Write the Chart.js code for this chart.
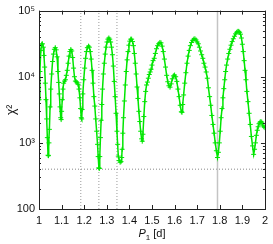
<!DOCTYPE html>
<html>
<head>
<meta charset="utf-8">
<script src="https://cdn.jsdelivr.net/npm/chart.js@4.4.0/dist/chart.umd.min.js"></script>
<style>
  html, body { margin: 0; padding: 0; background: #fff; }
  #chart { display: block; }
</style>
</head>
<body>
<canvas id="chart" width="273" height="244"></canvas>
<script>
// Trial period P1 [d] and chi^2 of the fit
const periods = [
  1.000, 1.004, 1.008, 1.012, 1.015, 1.019, 1.022, 1.025, 1.028, 1.031,
  1.034, 1.037, 1.040, 1.042, 1.044, 1.046, 1.049, 1.052, 1.056, 1.060,
  1.064, 1.068, 1.072, 1.076, 1.080, 1.084, 1.087, 1.090, 1.093, 1.096,
  1.098, 1.100, 1.103, 1.106, 1.109, 1.113, 1.117, 1.121, 1.125, 1.129,
  1.133, 1.137, 1.141, 1.145, 1.149, 1.153, 1.157, 1.161, 1.165, 1.169,
  1.173, 1.177, 1.181, 1.184, 1.187, 1.189, 1.191, 1.194, 1.198, 1.202,
  1.206, 1.210, 1.214, 1.219, 1.223, 1.227, 1.231, 1.235, 1.239, 1.243,
  1.247, 1.251, 1.255, 1.259, 1.262, 1.265, 1.267, 1.269, 1.272, 1.275,
  1.278, 1.281, 1.285, 1.289, 1.293, 1.297, 1.301, 1.305, 1.309, 1.313,
  1.317, 1.321, 1.325, 1.329, 1.333, 1.337, 1.341, 1.345, 1.348, 1.351,
  1.355, 1.359, 1.363, 1.366, 1.368, 1.371, 1.374, 1.378, 1.382, 1.386,
  1.390, 1.394, 1.398, 1.402, 1.406, 1.410, 1.414, 1.418, 1.422, 1.426,
  1.430, 1.434, 1.438, 1.442, 1.446, 1.450, 1.454, 1.457, 1.460, 1.464,
  1.468, 1.472, 1.476, 1.480, 1.484, 1.488, 1.492, 1.496, 1.500, 1.505,
  1.510, 1.515, 1.520, 1.525, 1.530, 1.535, 1.540, 1.545, 1.550, 1.555,
  1.560, 1.565, 1.570, 1.575, 1.580, 1.585, 1.590, 1.595, 1.600, 1.605,
  1.610, 1.615, 1.620, 1.625, 1.630, 1.633, 1.636, 1.640, 1.645, 1.650,
  1.655, 1.660, 1.665, 1.670, 1.675, 1.680, 1.685, 1.690, 1.695, 1.700,
  1.705, 1.710, 1.715, 1.720, 1.725, 1.730, 1.735, 1.740, 1.745, 1.750,
  1.755, 1.760, 1.765, 1.770, 1.775, 1.780, 1.785, 1.790, 1.794, 1.798,
  1.802, 1.806, 1.810, 1.814, 1.818, 1.822, 1.826, 1.830, 1.835, 1.840,
  1.845, 1.850, 1.855, 1.860, 1.865, 1.870, 1.875, 1.880, 1.884, 1.888,
  1.892, 1.896, 1.900, 1.904, 1.908, 1.912, 1.916, 1.920, 1.925, 1.930,
  1.935, 1.940, 1.945, 1.950, 1.954, 1.958, 1.962, 1.966, 1.970, 1.974,
  1.978, 1.982, 1.986, 1.990, 1.995, 2.000
];
const chi2 = [
  4500, 12000, 25000, 31000, 31500, 28000, 21000, 14000, 8000, 4500,
  2300, 1200, 650, 640, 1000, 1600, 3500, 6500, 11000, 17000,
  22000, 26000, 27500, 25500, 20000, 12000, 8200, 5500, 3500, 2400,
  2250, 3000, 4500, 6500, 8000, 8600, 9000, 10500, 12500, 16000,
  20500, 24000, 25800, 24500, 19500, 13500, 10000, 8600, 8400, 8100,
  7700, 6500, 4800, 3300, 2400, 2300, 3200, 5500, 9000, 13500,
  19000, 24000, 27500, 29000, 28000, 24000, 18500, 12500, 8000, 5000,
  3600, 2300, 1500, 950, 620, 420, 410, 620, 1200, 2200,
  3800, 6500, 11000, 16000, 22000, 28000, 33500, 37000, 38500, 37000,
  33500, 28000, 21500, 14500, 8500, 5000, 2800, 1500, 950, 630,
  540, 510, 520, 600, 800, 1400, 2400, 4300, 7500, 12000,
  18000, 24000, 30000, 34500, 37000, 37000, 34000, 29500, 22500, 16000,
  11000, 7000, 4700, 3000, 2100, 1500, 1150, 1060, 1350, 2500,
  4200, 6000, 7500, 8300, 9500, 10800, 11800, 13000, 15000, 17500,
  19000, 22500, 26500, 29500, 31500, 33000, 32500, 29000, 24000, 18500,
  14000, 10500, 8400, 7300, 6950, 7800, 9300, 10300, 10600, 10000,
  8500, 6500, 5000, 3700, 2950, 2900, 3800, 5300, 8000, 11500,
  16000, 20500, 25000, 29500, 33000, 35500, 37000, 37500, 36000, 33500,
  31500, 28000, 24500, 21500, 19000, 16000, 14000, 11800, 9500, 6800,
  5000, 3700, 2600, 1900, 1400, 1000, 760, 600, 720, 1000,
  1500, 2400, 3300, 4800, 6600, 9000, 12000, 15000, 18500, 22500,
  26000, 30000, 34000, 37500, 41000, 44500, 47000, 48500, 48500, 47000,
  44000, 38500, 31000, 24000, 17500, 12500, 9000, 6000, 4200, 2800,
  1900, 1250, 900, 670, 800, 1000, 1300, 1550, 1750, 1950,
  2050, 2100, 2050, 1850, 1750, 1700
];

// axis ticks
const xTicks = [1, 1.1, 1.2, 1.3, 1.4, 1.5, 1.6, 1.7, 1.8, 1.9, 2];
const xTickLabels = ['1', '1.1', '1.2', '1.3', '1.4', '1.5', '1.6', '1.7', '1.8', '1.9', '2'];
const yTicks = [100, 1000, 10000, 100000];
const yTickLabels = ['100', '10\u00b3', '10\u2074', '10\u2075'];

// reference marks
const markPeriods = [1.185, 1.265, 1.345];
const bestPeriod = 1.79;
const chi2Level = 400;

const GREEN = 'rgb(0, 230, 0)';
const FONT = '"Liberation Sans", Arial, sans-serif';

function vline(p, color, width, dash) {
  return {
    data: [{ x: p, y: 100 }, { x: p, y: 100000 }],
    borderColor: color,
    borderWidth: width,
    borderDash: dash,
    pointRadius: 0,
    order: 2,
  };
}

// gnuplot-like frame: box all round, inward ticks on all four sides, x title
const framePlugin = {
  id: 'frame',
  afterDraw(chart) {
    const { ctx, chartArea: a, scales } = chart;
    const x = scales.x;
    const y = scales.y;
    ctx.save();
    ctx.strokeStyle = '#222';
    ctx.lineWidth = 1;
    ctx.beginPath();
    xTicks.forEach((v) => {
      const px = Math.round(x.getPixelForValue(v)) + 0.5;
      ctx.moveTo(px, a.bottom);
      ctx.lineTo(px, a.bottom - 4);
      ctx.moveTo(px, a.top);
      ctx.lineTo(px, a.top + 4);
    });
    for (let d = 100; d < 100000; d *= 10) {
      for (let m = 1; m < 10; m++) {
        const len = m === 1 ? 4 : 2;
        const py = Math.round(y.getPixelForValue(d * m)) + 0.5;
        ctx.moveTo(a.left, py);
        ctx.lineTo(a.left + len, py);
        ctx.moveTo(a.right, py);
        ctx.lineTo(a.right - len, py);
      }
    }
    ctx.stroke();
    ctx.strokeRect(Math.round(a.left) + 0.5, Math.round(a.top) + 0.5,
      Math.round(a.right - a.left), Math.round(a.bottom - a.top));

    // x axis title: italic P, subscript 1, then [d]
    const base = 237;
    ctx.fillStyle = '#111';
    ctx.textBaseline = 'alphabetic';
    ctx.font = 'italic 11px ' + FONT;
    const wP = ctx.measureText('P').width;
    ctx.font = '8px ' + FONT;
    const w1 = ctx.measureText('1').width;
    ctx.font = '11px ' + FONT;
    const wD = ctx.measureText(' [d]').width;
    let tx = (a.left + a.right) / 2 - (wP + w1 + wD) / 2;
    ctx.font = 'italic 11px ' + FONT;
    ctx.fillText('P', tx, base);
    tx += wP;
    ctx.font = '8px ' + FONT;
    ctx.fillText('1', tx, base + 3);
    tx += w1;
    ctx.font = '11px ' + FONT;
    ctx.fillText(' [d]', tx, base);
    ctx.restore();
  },
};

const ctx = document.getElementById('chart');

new Chart(ctx, {
  type: 'line',
  data: {
    datasets: [
      {
        data: periods.map((p, i) => ({ x: p, y: chi2[i] })),
        borderColor: GREEN,
        borderWidth: 1.5,
        pointStyle: 'cross',
        pointRadius: 2.5,
        pointBorderWidth: 1,
        pointBorderColor: GREEN,
        tension: 0,
        order: 0,
      },
      ...markPeriods.map((p) => vline(p, '#999', 1, [1, 2])),
      vline(bestPeriod, '#c4c4c4', 1.5, []),
      {
        data: [{ x: 1, y: chi2Level }, { x: 2, y: chi2Level }],
        borderColor: '#888',
        borderWidth: 1,
        borderDash: [1, 2],
        pointRadius: 0,
        order: 2,
      },
    ],
  },
  options: {
    responsive: false,
    animation: false,
    devicePixelRatio: 1,
    layout: { padding: { left: 0, top: 7, right: 7, bottom: 0 } },
    plugins: {
      legend: { display: false },
      tooltip: { enabled: false },
    },
    scales: {
      x: {
        type: 'linear',
        min: 1,
        max: 2,
        grid: { display: false, drawTicks: false },
        border: { display: false },
        afterBuildTicks: (scale) => {
          scale.ticks = xTicks.map((v) => ({ value: v }));
        },
        afterFit: (scale) => {
          scale.height = 35;
        },
        ticks: {
          padding: 5,
          color: '#111',
          font: { family: FONT, size: 11 },
          maxRotation: 0,
          callback: (v, i) => xTickLabels[i],
        },
      },
      y: {
        type: 'logarithmic',
        min: 100,
        max: 100000,
        grid: { display: false, drawTicks: false },
        border: { display: false },
        afterBuildTicks: (scale) => {
          scale.ticks = yTicks.map((v) => ({ value: v }));
        },
        afterFit: (scale) => {
          scale.width = 39;
        },
        title: {
          display: true,
          text: '\u03c7\u00b2',
          color: '#111',
          padding: { top: 4, bottom: 0 },
          font: { family: FONT, size: 12 },
        },
        ticks: {
          padding: 4,
          color: '#111',
          font: { family: FONT, size: 11 },
          callback: (v, i) => yTickLabels[i],
        },
      },
    },
  },
  plugins: [framePlugin],
});
</script>
</body>
</html>
